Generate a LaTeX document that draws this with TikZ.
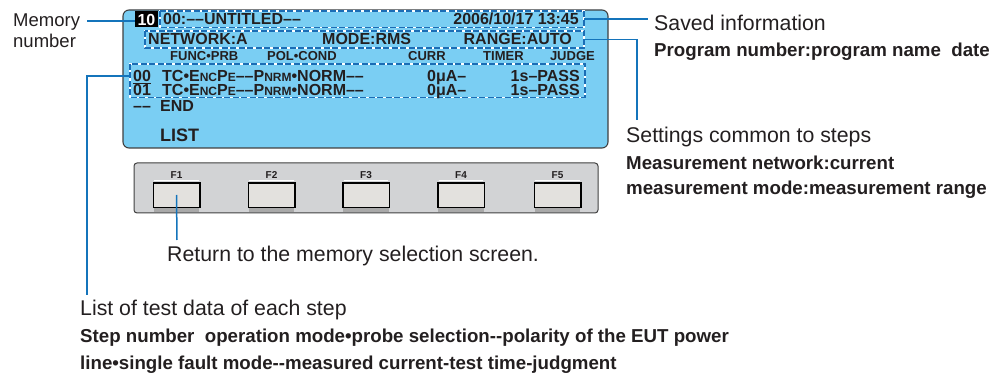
\documentclass[tikz,border=0pt]{standalone}
\usepackage{fontspec}
\setmainfont{Liberation Sans}
\definecolor{lcdfill}{HTML}{7ACEF3}
\definecolor{dblue}{HTML}{1B6DB5}
\definecolor{cblue}{HTML}{1474BB}
\definecolor{panelfill}{HTML}{D2D3D5}
\definecolor{btnfill}{HTML}{E3E1DE}
\definecolor{btnshade}{HTML}{A9A9A9}
\definecolor{txt}{HTML}{231F20}
\newcommand\fsz[1]{\fontsize{#1}{#1}\selectfont}
\newcommand\sml[1]{{\fontsize{12}{12}\selectfont #1}}
\tikzset{
  lcdtxt/.style={inner sep=0, font=\bfseries\fsz{16}, text=txt},
  hdrtxt/.style={inner sep=0, font=\bfseries\fsz{13}, text=txt},
  lbl/.style={inner sep=0, font=\fsz{21.3}, text=txt},
  lblsm/.style={inner sep=0, font=\fsz{18.5}, text=txt},
  lblb/.style={inner sep=0, font=\bfseries\fsz{18.7}, text=txt},
  dbox/.style={draw=white, line width=1.4pt, postaction={draw=dblue, line width=1.4pt, dash pattern=on 6pt off 2.5pt}},
  conn/.style={draw=cblue, line width=1.5pt},
  btn/.style={draw=black, line width=0.9pt, fill=btnfill, minimum width=46pt, minimum height=24pt, inner sep=0},
  fkey/.style={inner sep=0, font=\bfseries\fsz{10}, text=txt}
}
\begin{document}
\begin{tikzpicture}[x=1pt, y=-1pt]
\useasboundingbox (0,0) rectangle (997,374);
% LCD screen
\draw[fill=lcdfill, draw=black!75, line width=1.1pt, rounded corners=6pt] (123,10) rectangle (608,148);
% dashed boxes
\path (160,11) coordinate (box1nw) (584,27.5) coordinate (box1se);
\path (145,31) coordinate (box2nw) (584,48) coordinate (box2se);
\path (130,64) coordinate (box3nw) (585,97.5) coordinate (box3se);
\draw[dbox] (box1nw) rectangle (box1se);
\draw[dbox] (box2nw) rectangle (box2se);
\draw[dbox] (box3nw) rectangle (box3se);
% memory number box
\node[fill=black, text=white, font=\bfseries\fsz{16}, inner sep=0, minimum width=23pt, minimum height=16pt] (ten) at (146.5,19.5) {10};
% LCD texts
\node[lcdtxt, anchor=base west] (prog) at (163,25) {00:––UNTITLED––};
\node[lcdtxt, anchor=base east] (date) at (579,25) {2006/10/17 13:45};
\node[lcdtxt, anchor=base west] (net) at (148,45) {NETWORK:A};
\node[lcdtxt, anchor=base west] (mode) at (322,45) {MODE:RMS};
\node[lcdtxt, anchor=base east] (range) at (572,45) {RANGE:AUTO};
\node[hdrtxt, anchor=base west] (h1) at (170,61) {FUNC•PRB};
\node[hdrtxt, anchor=base west] (h2) at (267,61) {POL•COND};
\node[hdrtxt, anchor=base west] (h3) at (408,61) {CURR};
\node[hdrtxt, anchor=base west] (h4) at (483,61) {TIMER};
\node[hdrtxt, anchor=base east] (h5) at (595,61) {JUDGE};
\node[lcdtxt, anchor=base west] (n0) at (133,81.5) {\underline{00}};
\node[lcdtxt, anchor=base west] (r0) at (162,81.5) {TC•E\sml{NC}P\sml{E}––P\sml{NRM}•NORM––};
\node[lcdtxt, anchor=base west] (c0) at (427,81.5) {0μA–};
\node[lcdtxt, anchor=base east] (j0) at (580,81.5) {1s–PASS};
\node[lcdtxt, anchor=base west] (n1) at (133,96) {01};
\node[lcdtxt, anchor=base west] (r1) at (162,96) {TC•E\sml{NC}P\sml{E}––P\sml{NRM}•NORM––};
\node[lcdtxt, anchor=base west] (c1) at (427,96) {0μA–};
\node[lcdtxt, anchor=base east] (j1) at (580,96) {1s–PASS};
\node[lcdtxt, anchor=base west] (dd) at (133,112) {––};
\node[lcdtxt, anchor=base west] (end) at (160,112) {END};
\node[lcdtxt, font=\bfseries\fsz{18}, anchor=base west] (list) at (160,142) {LIST};
% key panel
\draw[fill=panelfill, draw=black!75, line width=1pt, rounded corners=3pt] (134,163) rectangle (598,213);
\foreach \i/\x in {1/176.5, 2/271.5, 3/366, 4/461, 5/557.5} {
  \node[btn] (F\i) at (\x,195) {};
  \fill[btnshade] ([xshift=0.5pt,yshift=-0.5pt]F\i.south west) rectangle ([xshift=-0.5pt,yshift=-4.5pt]F\i.south east);
  \draw[white, line width=1pt] ([xshift=1pt,yshift=1.6pt]F\i.north west) -- ([xshift=-1pt,yshift=1.6pt]F\i.north east);
  \draw[black, line width=0.9pt] (F\i.south west) rectangle (F\i.north east);
  \node[fkey] (FL\i) at (\x,175) {F\i};
}
% labels
\node[lblsm, anchor=base west] (memA) at (13,27) {Memory};
\node[lblsm, anchor=base west] (memB) at (13,48) {number};
\node[lbl, anchor=base west] (saved) at (654,31) {Saved information};
\node[lblb, anchor=base west] (savedB) at (654,57) {Program number:program name\ \ date};
\node[lbl, anchor=base west] (sett) at (626,143) {Settings common to steps};
\node[lblb, anchor=base west] (settB) at (626,170) {Measurement network:current};
\node[lblb, anchor=base west] (settC) at (626,195) {measurement mode:measurement range};
\node[lbl, anchor=base west] (ret) at (167,262) {Return to the memory selection screen.};
\node[lbl, anchor=base west] (lst) at (80,316) {List of test data of each step};
\node[lblb, anchor=base west] (lstB) at (80,343) {Step number\ \ operation mode•probe selection-{}-polarity of the EUT power};
\node[lblb, anchor=base west] (lstC) at (80,370) {line•single fault mode-{}-measured current-test time-judgment};
% connectors
\coordinate (cmem) at (87,21);
\draw[conn] (cmem) -- (ten.west |- cmem);
\coordinate (csaved) at (648,19);
\draw[conn] (box1se |- csaved) -- (csaved);
\coordinate (csett) at (637,120);
\draw[conn] (box2se |- 0,39.5) -- (csett |- 0,39.5) -- (csett);
\coordinate (clist) at (87,295);
\draw[conn] (box3nw |- 0,76) -- (clist |- 0,76) -- (clist);
\coordinate (cret) at (177,240);
\draw[conn] (F1.center) -- (cret);
\end{tikzpicture}
\end{document}
